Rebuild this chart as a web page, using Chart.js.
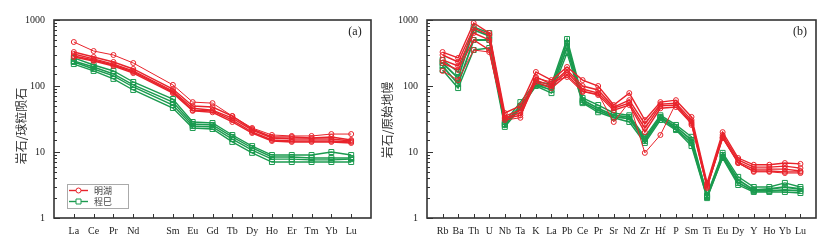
<!DOCTYPE html>
<html>
<head>
<meta charset="utf-8">
<script src="https://cdn.jsdelivr.net/npm/chart.js@4.4.1/dist/chart.umd.min.js"></script>
<style>
    body { margin: 0; background: #fff; }
    #wrap { position: relative; width: 827px; height: 250px; }
    canvas { position: absolute; top: 0; }
</style>
</head>
<body>
<div id="wrap">
    <canvas id="reeChart" width="380" height="250" style="left:0"></canvas>
    <canvas id="spiderChart" width="447" height="250" style="left:380px"></canvas>
</div>
<script>
// (a) chondrite-normalised REE, Pm left blank
const reeElements = ['La', 'Ce', 'Pr', 'Nd', '', 'Sm', 'Eu', 'Gd', 'Tb', 'Dy', 'Ho', 'Er', 'Tm', 'Yb', 'Lu'];
const reeMing1 = [464, 339, 295, 223, null, 104, 57, 55, 35, 23.1, 18.1, 17.5, 17.5, 18.7, 18.7];
const reeMing2 = [327, 275, 231, 181, null, 90, 49.8, 48, 35, 22.3, 16.9, 16.9, 16.3, 16.9, 15.2];
const reeMing3 = [305, 257, 215, 169, null, 84, 46, 43, 32.7, 21.5, 16.3, 15.7, 15.7, 15.7, 14.7];
const reeMing4 = [285, 248, 208, 163, null, 81, 43, 42, 30.5, 20.1, 15.2, 14.7, 14.7, 14.7, 14.2];
const reeMing5 = [275, 239, 201, 157, null, 78, 42, 40, 28.5, 19.4, 14.7, 14.2, 14.2, 14.2, 13.7];
const reeCheng1 = [266, 208, 169, 115, null, 63.5, 28.5, 27.5, 18.1, 12.3, 9.0, 9.0, 9.0, 10, 9.0];
const reeCheng2 = [239, 194, 152, 104, null, 57, 26.6, 25.7, 16.9, 11.5, 8.4, 8.4, 8.1, 8.1, 8.1];
const reeCheng3 = [231, 181, 142, 96.6, null, 51.5, 24.8, 23.9, 15.7, 10.7, 7.8, 7.8, 7.6, 7.6, 7.8];
const reeCheng4 = [215, 169, 128, 87, null, 46.4, 23.1, 22.3, 14.2, 9.7, 7.05, 7.05, 7.05, 7.05, 7.05];

// (b) primitive-mantle-normalised trace elements
const pmElements = ['Rb', 'Ba', 'Th', 'U', 'Nb', 'Ta', 'K', 'La', 'Pb', 'Ce', 'Pr', 'Sr', 'Nd', 'Zr', 'Hf', 'P', 'Sm', 'Ti', 'Eu', 'Dy', 'Y', 'Ho', 'Yb', 'Lu'];
const pmMing1 = [327, 266, 901, 635, 39, 50, 163, 123, 194, 123, 100, 51.5, 78, 30.5, 57, 61, 34, 3.4, 20, 8.1, 6.4, 6.4, 6.8, 6.6];
const pmMing2 = [295, 231, 756, 593, 35, 43, 137, 107, 175, 100, 87, 48, 61, 26.6, 53, 55, 30.5, 3.16, 18.1, 7.6, 5.9, 5.9, 6.1, 5.7];
const pmMing3 = [248, 201, 635, 498, 33, 39, 123, 100, 163, 90, 78, 46, 55, 23, 50, 51.5, 28.5, 3.05, 16.9, 7.05, 5.5, 5.5, 5.5, 5.15];
const pmMing4 = [223, 175, 498, 351, 32, 36, 115, 93, 147, 84, 73, 43, 51.5, 20, 46, 48, 27, 2.95, 16.3, 6.8, 5.15, 5.15, 5.0, 5.0];
const pmMing5 = [169, 123, 351, 327, 30.5, 33, 132, 115, 137, 81, 76, 28.5, 57, 9.7, 18.1, 55, 25.7, 2.85, 16.3, 6.8, 5.0, 5.0, 4.8, 4.8];
const pmCheng1 = [248, 163, 783, 635, 28.5, 57, 115, 107, 515, 66, 51.5, 39, 36, 17, 36, 25.7, 17, 2.23, 9.7, 4.2, 2.95, 2.95, 3.4, 2.95];
const pmCheng2 = [223, 132, 705, 572, 26.6, 50, 107, 96.6, 448, 61, 46, 36, 34, 15.7, 34, 24, 15.2, 2.15, 9.0, 3.8, 2.66, 2.75, 2.95, 2.75];
const pmCheng3 = [201, 107, 498, 498, 25.7, 48, 104, 87, 377, 57, 43, 34, 32, 14.7, 33, 22.3, 13.7, 2.08, 8.4, 3.4, 2.57, 2.57, 2.66, 2.57];
const pmCheng4 = [175, 93, 351, 377, 24, 46, 100, 78, 316, 55, 40, 33, 28.5, 13.7, 30.5, 21.5, 12.3, 2.0, 8.1, 3.16, 2.48, 2.48, 2.48, 2.39];

const groupNames = ['明湖', '程巳'];
const yTickValues = [1, 10, 100, 1000];

const RED = '#e8232b';
const GREEN = '#1b9a4f';
const INK = '#222';
const SERIF = '"Liberation Serif", "DejaVu Serif", serif';
const CJK = '"Noto Sans CJK SC", sans-serif';

// pad a series with empty slots at both ends so the frame has a half-step margin
const pad = arr => [null].concat(arr, [null]);

function ming(arr, width) {
    return {
        data: pad(arr), borderColor: RED, borderWidth: width || 1.4,
        pointStyle: 'circle', pointRadius: 2.5, pointBorderWidth: 1,
        pointBorderColor: RED, pointBackgroundColor: 'rgba(255,255,255,0)',
        spanGaps: true, tension: 0
    };
}
function cheng(arr, width) {
    return {
        data: pad(arr), borderColor: GREEN, borderWidth: width || 1.4,
        pointStyle: 'rect', pointRadius: 3.5, pointBorderWidth: 1,
        pointBorderColor: GREEN, pointBackgroundColor: 'rgba(255,255,255,0)',
        spanGaps: true, tension: 0
    };
}

// frame, inward ticks, panel tag, rotated y title and (optionally) legend box
const framePlugin = {
    id: 'frame',
    afterDatasetsDraw(chart, args, opts) {
        const { ctx, chartArea: a, scales: { x, y } } = chart;
        ctx.save();
        ctx.strokeStyle = '#333';
        ctx.lineWidth = 1;
        y.ticks.forEach(t => {
            const py = Math.round(y.getPixelForValue(t.value)) + 0.5;
            const major = yTickValues.includes(t.value);
            ctx.beginPath();
            ctx.moveTo(a.left, py);
            ctx.lineTo(a.left + (major ? 6 : 3), py);
            ctx.stroke();
        });
        for (let i = 1; i < x.ticks.length - 1; i++) {
            const px = Math.round(x.getPixelForTick(i)) + 0.5;
            ctx.beginPath();
            ctx.moveTo(px, a.bottom);
            ctx.lineTo(px, a.bottom - 4);
            ctx.stroke();
        }
        ctx.lineWidth = 1.6;
        ctx.strokeRect(a.left, a.top, a.right - a.left, a.bottom - a.top);

        ctx.fillStyle = INK;
        ctx.font = '12px ' + SERIF;
        ctx.textAlign = 'center';
        ctx.textBaseline = 'middle';
        ctx.fillText(opts.tag, a.right - 16, a.top + 12);

        ctx.save();
        ctx.translate(opts.titleX, opts.titleY);
        ctx.rotate(-Math.PI / 2);
        ctx.font = '12px ' + CJK;
        ctx.fillStyle = '#333';
        ctx.fillText(opts.title, 0, 0);
        ctx.restore();

        if (opts.legend) {
            const lx = a.left + 13, ly = 184;
            ctx.fillStyle = '#fff';
            ctx.fillRect(lx, ly, 61, 24);
            ctx.strokeStyle = '#aaa';
            ctx.lineWidth = 1;
            ctx.strokeRect(lx + 0.5, ly + 0.5, 61, 24);
            [[RED, 'circle'], [GREEN, 'rect']].forEach(([c, shape], i) => {
                const cy = ly + 6.5 + i * 11;
                ctx.strokeStyle = c;
                ctx.lineWidth = 1.4;
                ctx.beginPath();
                ctx.moveTo(lx + 2, cy);
                ctx.lineTo(lx + 21, cy);
                ctx.stroke();
                ctx.lineWidth = 1;
                ctx.fillStyle = '#fff';
                ctx.beginPath();
                if (shape === 'circle') ctx.arc(lx + 11.5, cy, 2.5, 0, Math.PI * 2);
                else ctx.rect(lx + 9, cy - 2.5, 5, 5);
                ctx.fill();
                ctx.stroke();
                ctx.fillStyle = '#444';
                ctx.font = '9px ' + CJK;
                ctx.textAlign = 'left';
                ctx.fillText(groupNames[i], lx + 27, cy);
            });
        }
        ctx.restore();
    }
};

function makeOptions(yWidth, rightPad, frame) {
    return {
        responsive: false,
        animation: false,
        layout: { padding: { top: 20, right: rightPad, left: 0, bottom: 0 } },
        plugins: { legend: { display: false }, tooltip: { enabled: false }, frame: frame },
        scales: {
            x: {
                type: 'category', offset: false,
                grid: { display: false, drawTicks: false },
                border: { display: false },
                ticks: { autoSkip: false, maxRotation: 0, padding: 7, color: INK, font: { family: SERIF, size: 10 } },
                afterFit: s => { s.height = 32; }
            },
            y: {
                type: 'logarithmic', min: 1, max: 1000,
                grid: { display: false, drawTicks: false },
                border: { display: false },
                ticks: {
                    autoSkip: false, padding: 9, color: INK, font: { family: SERIF, size: 10 },
                    callback: v => yTickValues.includes(v) ? String(v) : ''
                },
                afterFit: s => { s.width = yWidth; }
            }
        }
    };
}

new Chart(document.getElementById('reeChart'), {
    type: 'line',
    data: {
        labels: pad(reeElements).map(l => l || ''),
        datasets: [
            ming(reeMing1, 1), ming(reeMing2), ming(reeMing3), ming(reeMing4), ming(reeMing5),
            cheng(reeCheng1), cheng(reeCheng2), cheng(reeCheng3), cheng(reeCheng4)
        ]
    },
    options: makeOptions(54, 9, { tag: '(a)', title: '岩石/球粒陨石', titleX: 21, titleY: 126, legend: true }),
    plugins: [framePlugin]
});

new Chart(document.getElementById('spiderChart'), {
    type: 'line',
    data: {
        labels: pad(pmElements).map(l => l || ''),
        datasets: [
            ming(pmMing1), ming(pmMing2), ming(pmMing3), ming(pmMing4), ming(pmMing5, 1),
            cheng(pmCheng1), cheng(pmCheng2, 1.8), cheng(pmCheng3, 1.8), cheng(pmCheng4)
        ]
    },
    options: makeOptions(47, 11, { tag: '(b)', title: '岩石/原始地幔', titleX: 7, titleY: 120, legend: false }),
    plugins: [framePlugin]
});
</script>
</body>
</html>
